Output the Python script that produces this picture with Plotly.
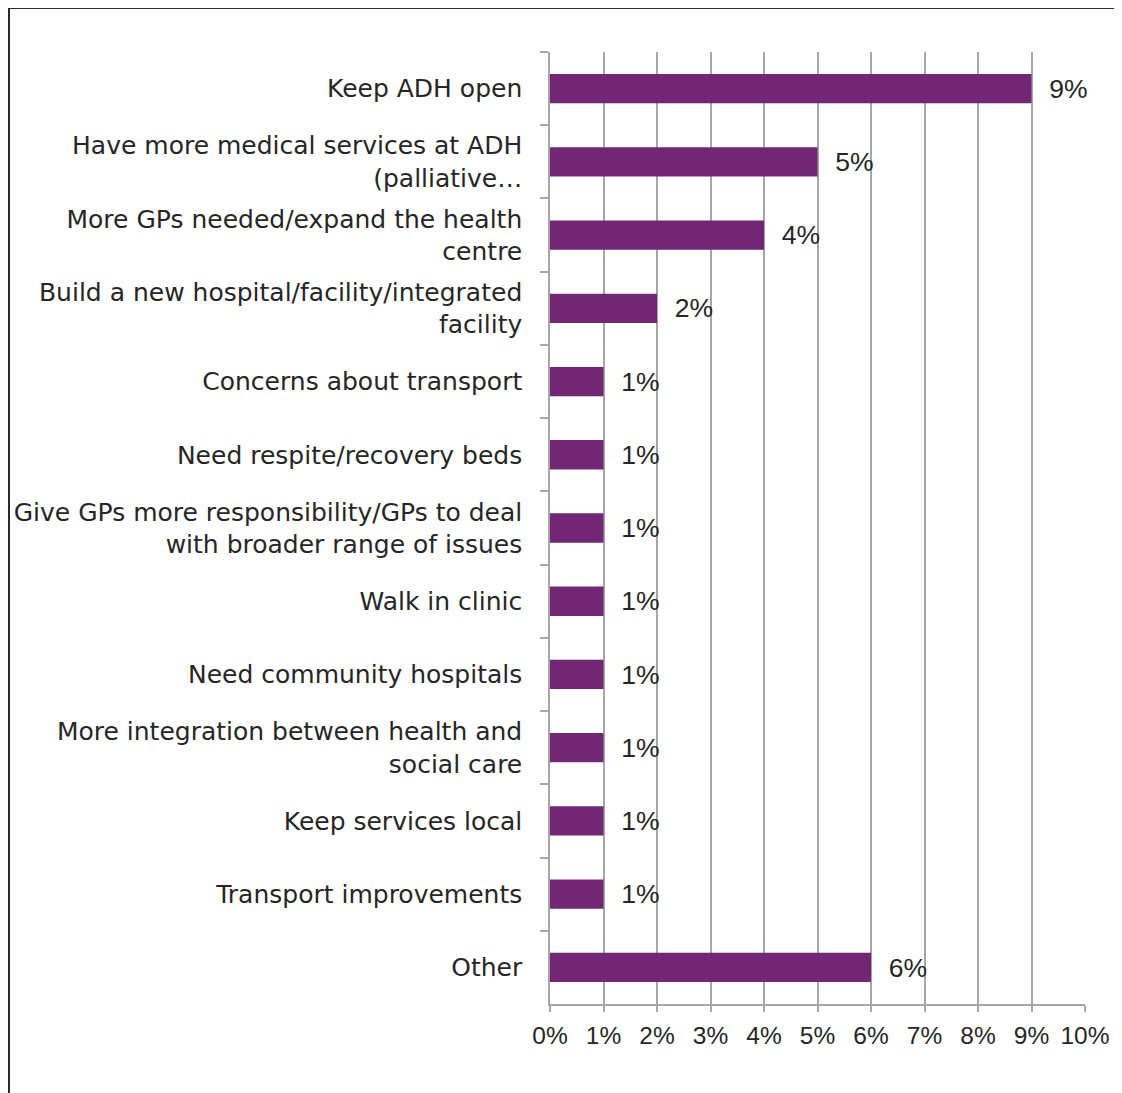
import plotly.graph_objects as go

# Answers, top to bottom
categories = [
    "Keep ADH open",
    "Have more medical services at ADH<br>(palliative…",
    "More GPs needed/expand the health<br>centre",
    "Build a new hospital/facility/integrated<br>facility",
    "Concerns about transport",
    "Need respite/recovery beds",
    "Give GPs more responsibility/GPs to deal<br>with broader range of issues",
    "Walk in clinic",
    "Need community hospitals",
    "More integration between health and<br>social care",
    "Keep services local",
    "Transport improvements",
    "Other",
]
shares = [0.09, 0.05, 0.04, 0.02, 0.01, 0.01, 0.01, 0.01, 0.01, 0.01, 0.01, 0.01, 0.06]
x_ticks = [i / 100 for i in range(0, 11)]

# the page body adds an 8px offset, so the figure is sized to the remaining area
OFF = 8
W, H = 1122 - OFF, 1093 - OFF
L, R, T, B = 550 - OFF, 37, 52 - OFF, 89
pw, ph = W - L - R, H - T - B


def px_x(p):
    return (p - OFF - L) / pw


def px_y(p):
    return (H - B - (p - OFF)) / ph


fig = go.Figure()

fig.add_trace(
    go.Bar(
        x=shares,
        y=categories,
        orientation="h",
        marker=dict(color="#722774", line=dict(width=0)),
        texttemplate="\u00a0\u00a0%{x:.0%}",
        textposition="outside",
        textfont=dict(family="Liberation Sans", size=29, color="#262626"),
        cliponaxis=False,
        hoverinfo="skip",
    )
)

# frame lines around the chart area
border = dict(color="#2b2b2b", width=2)
fig.add_shape(type="line", xref="paper", yref="paper",
              x0=px_x(9), x1=px_x(1130), y0=px_y(8), y1=px_y(8), line=border)
fig.add_shape(type="line", xref="paper", yref="paper",
              x0=px_x(9), x1=px_x(9), y0=px_y(8), y1=px_y(1100), line=border)

grid = "#a6a6a6"
fig.update_layout(
    width=W,
    height=H,
    margin=dict(l=L, r=R, t=T, b=B, autoexpand=False),
    paper_bgcolor="white",
    plot_bgcolor="white",
    showlegend=False,
    bargap=0.6,
    xaxis=dict(
        range=[0, 0.1],
        tickvals=x_ticks,
        tickformat=".0%",
        automargin=False,
        showgrid=True,
        gridcolor=grid,
        gridwidth=1.5,
        showline=True,
        linecolor=grid,
        linewidth=1.5,
        ticks="outside",
        ticklen=6,
        tickcolor=grid,
        tickwidth=1.5,
        ticklabelstandoff=3,
        zeroline=False,
        tickfont=dict(family="Liberation Sans", size=24.5, color="#262626"),
    ),
    yaxis=dict(
        autorange="reversed",
        automargin=False,
        showline=True,
        linecolor=grid,
        linewidth=1.5,
        ticks="outside",
        tickson="boundaries",
        ticklen=8,
        tickcolor=grid,
        tickwidth=1.5,
        ticklabelstandoff=21,
        showgrid=False,
        tickfont=dict(family="DejaVu Sans", size=25, color="#262626"),
    ),
)

fig.write_html("out.html")
